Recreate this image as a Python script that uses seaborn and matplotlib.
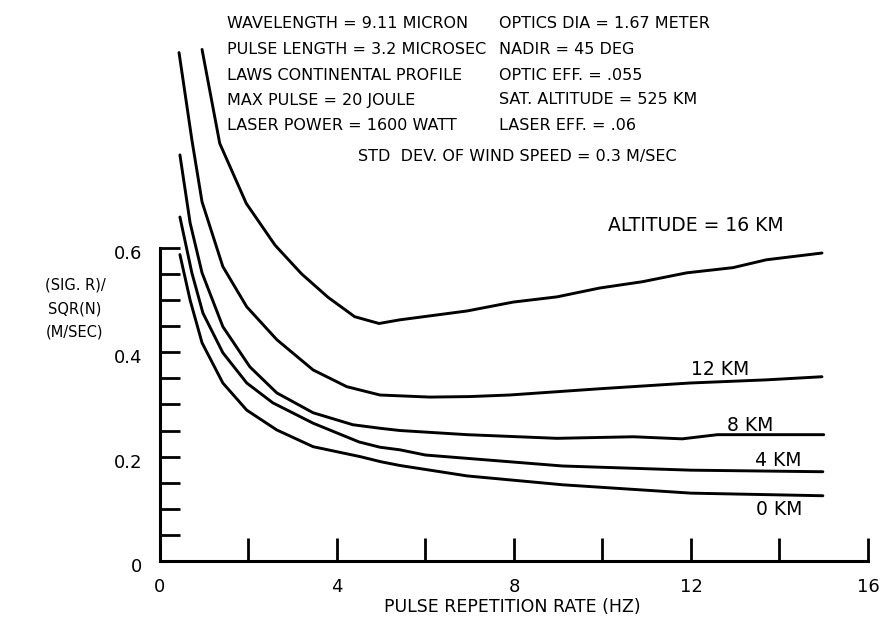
import matplotlib
matplotlib.use("Agg")
import matplotlib.pyplot as plt
import matplotlib.transforms as mtransforms
import numpy as np
import pandas as pd
import seaborn as sns

# ---------------- data ----------------
alt_labels = ["16 KM", "12 KM", "8 KM", "4 KM", "0 KM"]

x_16 = [0.95, 1.35, 1.95, 2.6, 3.2, 3.8, 4.4, 4.95, 5.42, 6.94, 7.98, 8.97, 9.94, 10.9, 11.9, 12.95, 13.7, 14.96]
y_16 = [0.98, 0.80, 0.685, 0.605, 0.55, 0.505, 0.468, 0.455, 0.462, 0.479, 0.496, 0.506, 0.523, 0.535, 0.552, 0.562, 0.577, 0.59]

x_12 = [0.43, 0.72, 0.95, 1.42, 1.96, 2.64, 3.46, 4.22, 4.97, 6.1, 7.0, 7.9, 9.94, 11.98, 13.7, 14.96]
y_12 = [0.974, 0.807, 0.688, 0.564, 0.487, 0.424, 0.366, 0.334, 0.318, 0.314, 0.315, 0.318, 0.33, 0.341, 0.347, 0.353]

x_8 = [0.45, 0.68, 0.95, 1.42, 2.03, 2.64, 3.46, 4.36, 5.0, 5.42, 6.94, 8.97, 10.7, 11.8, 12.6, 15.0]
y_8 = [0.778, 0.648, 0.552, 0.449, 0.372, 0.322, 0.284, 0.261, 0.254, 0.25, 0.242, 0.235, 0.238, 0.234, 0.242, 0.242]

x_4 = [0.45, 0.72, 0.97, 1.42, 1.96, 2.55, 3.46, 4.5, 4.97, 5.42, 6.0, 9.1, 12.0, 14.98]
y_4 = [0.659, 0.552, 0.475, 0.399, 0.341, 0.303, 0.264, 0.228, 0.218, 0.213, 0.203, 0.182, 0.174, 0.171]

x_0 = [0.45, 0.68, 0.95, 1.42, 1.96, 2.64, 3.46, 4.52, 5.0, 5.42, 6.94, 9.1, 12.0, 14.98]
y_0 = [0.587, 0.50, 0.418, 0.341, 0.289, 0.251, 0.219, 0.2, 0.19, 0.183, 0.163, 0.146, 0.13, 0.125]

x_major_ticks = [0, 4, 8, 12, 16]
x_minor_ticks = [2, 6, 10, 14]
y_major_ticks = [0, 0.2, 0.4, 0.6]
y_minor_ticks = [0.05, 0.1, 0.15, 0.25, 0.3, 0.35, 0.45, 0.5, 0.55]
y_tick_labels = ["0", "0.2", "0.4", "0.6"]

header_left = ["WAVELENGTH = 9.11 MICRON", "PULSE LENGTH = 3.2 MICROSEC",
               "LAWS CONTINENTAL PROFILE", "MAX PULSE = 20 JOULE",
               "LASER POWER = 1600 WATT"]
header_right = ["OPTICS DIA = 1.67 METER", "NADIR = 45 DEG", "OPTIC EFF. = .055",
                "SAT. ALTITUDE = 525 KM", "LASER EFF. = .06"]
header_bottom = "STD  DEV. OF WIND SPEED = 0.3 M/SEC"
ylabel_lines = ["(SIG. R)/", "SQR(N)", "(M/SEC)"]
xlabel_text = "PULSE REPETITION RATE (HZ)"
curve_label_text = ["ALTITUDE = 16 KM", "12 KM", "8 KM", "4 KM", "0 KM"]

# ---------------- build table ----------------
frames = []
for lab, xs, ys in zip(alt_labels, [x_16, x_12, x_8, x_4, x_0], [y_16, y_12, y_8, y_4, y_0]):
    frames.append(pd.DataFrame({"rate": xs, "sigma": ys, "alt": lab}))
df = pd.concat(frames, ignore_index=True)

# ---------------- figure ----------------
sns.set_theme(style="white")
plt.rcParams["font.family"] = ["DejaVu Sans"]
plt.rcParams["text.color"] = "black"
plt.rcParams["xtick.labelcolor"] = "black"
plt.rcParams["ytick.labelcolor"] = "black"

W, H = 887, 619
fig = plt.figure(figsize=(W / 100, H / 100), dpi=100)
# axes: x 0->px160, 16->px868 ; y 0->px561, 0.6->px248
ax = fig.add_axes([160 / W, (H - 561) / H, 708 / W, (561 - 39) / H])

sns.lineplot(data=df, x="rate", y="sigma", hue="alt", units="alt", estimator=None,
             sort=False, palette=["black"] * 5, linewidth=2.1, legend=False, ax=ax)

ax.set_xlim(0, 16)
ax.set_ylim(0, 1.0)
for s in ["top", "right"]:
    ax.spines[s].set_visible(False)
for s in ["left", "bottom"]:
    ax.spines[s].set_linewidth(2.2)
    ax.spines[s].set_color("black")
ax.spines["left"].set_bounds(0, 0.6)
ax.spines["bottom"].set_bounds(0, 16)

ax.set_xticks(x_major_ticks)
ax.set_xticks(x_minor_ticks, minor=True)
ax.set_xticklabels([str(v) for v in x_major_ticks])
ax.set_yticks(y_major_ticks)
ax.set_yticks(y_minor_ticks, minor=True)
ax.set_yticklabels(y_tick_labels)
ax.tick_params(axis="x", which="both", direction="in", length=16.5, width=2.0,
               color="black", bottom=True, pad=12, labelsize=13)
ax.tick_params(axis="y", which="both", direction="in", length=14.5, width=2.0,
               color="black", left=True, pad=13, labelsize=13)
offset = mtransforms.ScaledTranslation(0, -4 / 100, fig.dpi_scale_trans)
for lbl in ax.get_yticklabels():
    lbl.set_transform(lbl.get_transform() + offset)
ax.set_xlabel("")
ax.set_ylabel("")
ax.grid(False)

# curve labels (data coords)
lab_fs = 13.5
ax.text(12.1, 0.642, curve_label_text[0], ha="center", va="center", fontsize=lab_fs)
ax.text(12.65, 0.366, curve_label_text[1], ha="center", va="center", fontsize=lab_fs)
ax.text(13.33, 0.259, curve_label_text[2], ha="center", va="center", fontsize=lab_fs)
ax.text(13.97, 0.192, curve_label_text[3], ha="center", va="center", fontsize=lab_fs)
ax.text(14.0, 0.098, curve_label_text[4], ha="center", va="center", fontsize=lab_fs)

def ftext(px, py, s, **kw):
    fig.text(px / W, 1 - py / H, s, va="center", **kw)

rows = [23, 49, 75, 100, 125]
for r, a, b in zip(rows, header_left, header_right):
    ftext(227, r, a, ha="left", fontsize=11.5)
    ftext(499, r, b, ha="left", fontsize=11.5)
ftext(517, 156, header_bottom, ha="center", fontsize=11.5)

for r, s in zip([285, 309, 332], ylabel_lines):
    ftext(75, r, s, ha="center", fontsize=10.5)

ftext(512, 607, xlabel_text, ha="center", fontsize=12.5)

fig.savefig("out.png", dpi=100)
